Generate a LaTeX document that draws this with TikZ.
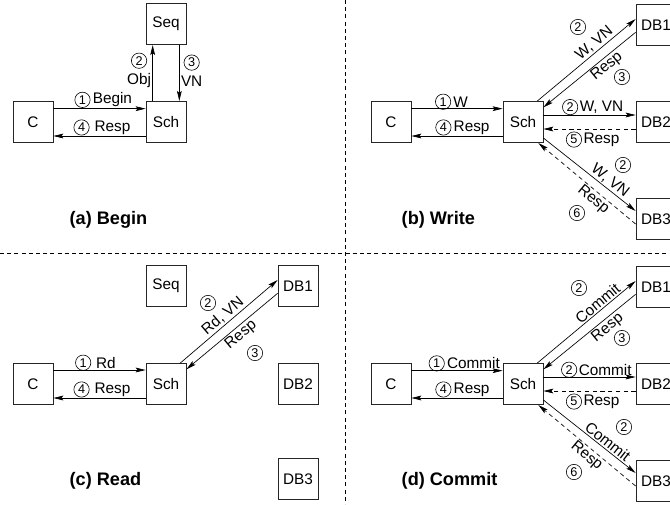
\documentclass[tikz,border=0pt]{standalone}
\usepackage{fontspec}
\setmainfont{Liberation Sans}
\usetikzlibrary{arrows.meta, positioning}

\begin{document}
\begin{tikzpicture}[x=0.75pt, y=-0.75pt,
  box/.style={draw=black!85, line width=0.6pt, minimum width=30pt, minimum height=31pt, inner sep=0pt, font=\fontsize{11.5}{13}\selectfont},
  msg/.style={-{Stealth[length=7.5pt, width=3.6pt, inset=1.5pt]}, line width=0.5pt},
  ack/.style={msg, dash pattern=on 3.2pt off 2.6pt},
  lab/.style={font=\fontsize{11.5}{13}\selectfont, inner sep=1pt},
  num/.style={circle, draw, line width=0.45pt, inner sep=0pt, minimum size=11.5pt, font=\fontsize{9.5}{10}\selectfont},
  subcap/.style={anchor=west, font=\fontsize{13.6}{15}\selectfont\bfseries},
  divider/.style={line width=0.5pt, dash pattern=on 3pt off 2.4pt}]
  \useasboundingbox (0,0) rectangle (670,504);
  \clip (0,0) rectangle (670,504);

  % dividers
  \draw[divider] (0,253) -- (670,253);
  \draw[divider] (345,0) -- (345,504);

  % (a) Begin
  \node[box] (ca) at (33,122) {C};
  \node[box] (sa) at (166,122) {Sch};
  \node[box] (qa) at (166,24) {Seq};
  \draw[msg] ([yshift=10pt]ca.east) -- node[lab, above, pos=0.64] (ba) {Begin} ([yshift=10pt]sa.west);
  \node[num, left=0.5pt of ba] (na1) {1};
  \draw[msg] ([yshift=-10.5pt]sa.west) -- node[lab, above, pos=0.36] (ra) {Resp} ([yshift=-10.5pt]ca.east);
  \node[num, left=2.5pt of ra] (na4) {4};
  \draw[msg] ([xshift=-10pt]sa.north) -- node[lab, left, pos=0.36] (oa) {Obj} ([xshift=-10pt]qa.south);
  \node[num, above=2.5pt of oa] (na2) {2};
  \draw[msg] ([xshift=10pt]qa.south) -- node[lab, right, pos=0.64] (va) {VN} ([xshift=10pt]sa.north);
  \node[num, above=2.5pt of va] (na3) {3};
  \node[subcap] (ta) at (65,220) {(a) Begin};

  % (b) Write
  \node[box] (cb) at (391,122) {C};
  \node[box] (sb) at (523,122) {Sch};
  \node[box] (db1b) at (656,25) {DB1};
  \node[box] (db2b) at (656,122) {DB2};
  \node[box] (db3b) at (656,219) {DB3};
  \draw[msg] ([yshift=10pt]cb.east) -- node[lab, above, pos=0.54] (wb) {W} ([yshift=10pt]sb.west);
  \node[num, left=0.5pt of wb] (nb1) {1};
  \draw[msg] ([yshift=-10.5pt]sb.west) -- node[lab, above, pos=0.34] (rb) {Resp} ([yshift=-10.5pt]cb.east);
  \node[num, left=0.5pt of rb] (nb4) {4};
  \draw[msg] ([xshift=-4.5pt]sb.north east) -- node[lab, sloped, above, pos=0.63] {W, VN} ([yshift=4.5pt]db1b.west);
  \draw[msg] ([yshift=-5.5pt]db1b.west) -- node[lab, sloped, below, pos=0.37] {Resp} ([yshift=11pt]sb.east);
  \draw[msg] ([yshift=5.25pt]sb.east) -- node[lab, above, pos=0.63] (w2b) {W, VN} ([yshift=5.25pt]db2b.west);
  \node[num, left=0pt of w2b] (nb2) {2};
  \draw[ack] ([yshift=-5.25pt]db2b.west) -- node[lab, below=1.5pt, pos=0.37] (r2b) {Resp} ([yshift=-5.25pt]sb.east);
  \node[num, left=0pt of r2b] (nb5) {5};
  \draw[msg] ([yshift=-12pt]sb.east) -- node[lab, sloped, above, pos=0.67] {W, VN} ([yshift=6pt]db3b.west);
  \draw[ack] ([yshift=-3.75pt]db3b.west) -- node[lab, sloped, below, pos=0.38] {Resp} ([xshift=-3.75pt]sb.south east);
  \node[num] (nb2a) at (578,27) {2};
  \node[num] (nb3) at (622,77) {3};
  \node[num] (nb2c) at (623,165) {2};
  \node[num] (nb6) at (577,213) {6};
  \node[subcap] (tb) at (397,220) {(b) Write};

  % (c) Read
  \node[box] (cc) at (33,384) {C};
  \node[box] (sc) at (166,384) {Sch};
  \node[box] (qc) at (166,286) {Seq};
  \node[box] (db1c) at (298,286) {DB1};
  \node[box] (db2c) at (298,384) {DB2};
  \node[box] (db3c) at (298,479) {DB3};
  \draw[msg] ([yshift=10.5pt]cc.east) -- node[lab, above, pos=0.57] (dc) {Rd} ([yshift=10.5pt]sc.west);
  \node[num, left=2.5pt of dc] (nc1) {1};
  \draw[msg] ([yshift=-10.5pt]sc.west) -- node[lab, above, pos=0.36] (rc) {Resp} ([yshift=-10.5pt]cc.east);
  \node[num, left=2.5pt of rc] (nc4) {4};
  \draw[msg] ([xshift=-4.5pt]sc.north east) -- node[lab, sloped, above, pos=0.49] {Rd, VN} ([yshift=4.5pt]db1c.west);
  \draw[msg] ([yshift=-5.5pt]db1c.west) -- node[lab, sloped, below, pos=0.46] {Resp} ([yshift=11pt]sc.east);
  \node[num] (nc2) at (208,303) {2};
  \node[num] (nc3) at (255,353) {3};
  \node[subcap] (tc) at (65,481) {(c) Read};

  % (d) Commit
  \node[box] (cd) at (391,384) {C};
  \node[box] (sd) at (523,384) {Sch};
  \node[box] (db1d) at (656,287) {DB1};
  \node[box] (db2d) at (656,384) {DB2};
  \node[box] (db3d) at (656,481) {DB3};
  \draw[msg] ([yshift=10pt]cd.east) -- node[lab, above, pos=0.68] (md) {Commit} ([yshift=10pt]sd.west);
  \node[num, left=0.5pt of md] (nd1) {1};
  \draw[msg] ([yshift=-10.5pt]sd.west) -- node[lab, above, pos=0.34] (rd) {Resp} ([yshift=-10.5pt]cd.east);
  \node[num, left=0.5pt of rd] (nd4) {4};
  \draw[msg] ([xshift=-4.5pt]sd.north east) -- node[lab, sloped, above, pos=0.66] {Commit} ([yshift=4.5pt]db1d.west);
  \draw[msg] ([yshift=-5.5pt]db1d.west) -- node[lab, sloped, below, pos=0.36] {Resp} ([yshift=11pt]sd.east);
  \draw[msg] ([yshift=5.25pt]sd.east) -- node[lab, above, pos=0.67] (m2d) {Commit} ([yshift=5.25pt]db2d.west);
  \node[num, left=0pt of m2d] (nd2) {2};
  \draw[ack] ([yshift=-5.25pt]db2d.west) -- node[lab, below=1.5pt, pos=0.37] (r2d) {Resp} ([yshift=-5.25pt]sd.east);
  \node[num, left=0pt of r2d] (nd5) {5};
  \draw[msg] ([yshift=-12pt]sd.east) -- node[lab, sloped, above, pos=0.65] {Commit} ([yshift=6pt]db3d.west);
  \draw[ack] ([yshift=-3.75pt]db3d.west) -- node[lab, sloped, below, pos=0.45] {Resp} ([xshift=-3.75pt]sd.south east);
  \node[num] (nd2a) at (579,288) {2};
  \node[num] (nd3) at (622,338) {3};
  \node[num] (nd2c) at (624,427) {2};
  \node[num] (nd6) at (574,472) {6};
  \node[subcap] (td) at (397,481) {(d) Commit};
\end{tikzpicture}
\end{document}
